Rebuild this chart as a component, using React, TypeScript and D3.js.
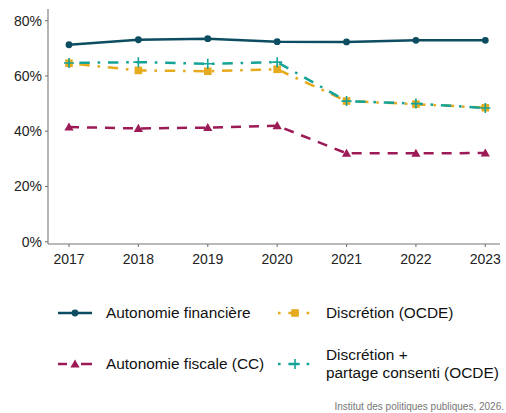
import React from "react";
import * as d3 from "d3";

const years = [2017, 2018, 2019, 2020, 2021, 2022, 2023];
const autonomieFinanciere = [71.3, 73.1, 73.5, 72.4, 72.3, 72.9, 72.9];
const discretionOCDE = [64.6, 62.0, 61.7, 62.4, 50.9, 49.8, 48.5];
const discretionPartage = [64.7, 65.0, 64.4, 65.0, 50.9, 50.0, 48.4];
const autonomieFiscale = [41.5, 41.0, 41.3, 42.0, 32.0, 32.0, 32.1];
const yTicks = [0, 20, 40, 60, 80];

type Series = {
  name: string[];
  values: number[];
  color: string;
  dash: string;
  keyDash: string;
  marker: "circle" | "triangle" | "square" | "plus";
};

const series: Series[] = [
  { name: ["Autonomie financière"], values: autonomieFinanciere, color: "#0c4d61", dash: "", keyDash: "", marker: "circle" },
  { name: ["Autonomie fiscale (CC)"], values: autonomieFiscale, color: "#9c1a55", dash: "10 8", keyDash: "9 14 12", marker: "triangle" },
  { name: ["Discrétion (OCDE)"], values: discretionOCDE, color: "#e6aa1f", dash: "2.6 7.8 10.4 7.8", keyDash: "2.6 7.8 10.4 7.8", marker: "square" },
  { name: ["Discrétion +", "partage consenti (OCDE)"], values: discretionPartage, color: "#14a396", dash: "2.6 7.8 10.4 7.8", keyDash: "2.6 7.8 10.4 7.8", marker: "plus" },
];

const FONT = "'Liberation Sans', Arial, sans-serif";

function Marker({ type, x, y, color }: { type: Series["marker"]; x: number; y: number; color: string }) {
  if (type === "circle") return <circle cx={x} cy={y} r={3.4} fill={color} />;
  if (type === "triangle") {
    const s = 4.6;
    return <path d={`M${x},${y - s}L${x + s},${y + s * 0.75}L${x - s},${y + s * 0.75}Z`} fill={color} />;
  }
  if (type === "square") return <rect x={x - 3.8} y={y - 3.8} width={7.6} height={7.6} fill={color} />;
  return (
    <path d={`M${x - 5},${y}H${x + 5}M${x},${y - 5}V${y + 5}`} stroke={color} strokeWidth={1.6} />
  );
}

export default function App() {
  const width = 506;
  const height = 413;
  const x = d3.scaleLinear().domain([2017, 2023]).range([69, 485.3]);
  const y = d3.scaleLinear().domain([0, 80]).range([241.7, 20.7]);
  const axisX = 48;
  const axisY = 244;

  const line = (vals: number[]) =>
    d3
      .line<number>()
      .x((_, i) => x(years[i]))
      .y((d) => y(d))(vals) || "";

  const legendPos = [
    { kx: 58, ty: 313 },
    { kx: 58, ty: 364 },
    { kx: 278, ty: 313 },
    { kx: 278, ty: 364 },
  ];

  return (
    <svg width={width} height={height} style={{ position: "absolute", left: 0, top: 0, fontFamily: FONT }}>
      <rect width={width} height={height} fill="#fff" />
      {/* axes */}
      <line x1={axisX} x2={axisX} y1={9} y2={axisY} stroke="#777" strokeWidth={1.1} />
      <line x1={axisX} x2={500} y1={axisY} y2={axisY} stroke="#777" strokeWidth={1.1} />
      {yTicks.map((t) => (
        <g key={t}>
          <line x1={axisX - 3} x2={axisX} y1={y(t)} y2={y(t)} stroke="#777" strokeWidth={1.1} />
          <text x={axisX - 6} y={y(t)} dy="0.35em" textAnchor="end" fontSize={14} fill="#222">
            {`${t}%`}
          </text>
        </g>
      ))}
      {years.map((yr) => (
        <g key={yr}>
          <line x1={x(yr)} x2={x(yr)} y1={axisY} y2={axisY + 3} stroke="#777" strokeWidth={1.1} />
          <text x={x(yr)} y={264} textAnchor="middle" fontSize={14} fill="#222">
            {yr}
          </text>
        </g>
      ))}
      {/* lines */}
      {series.map((s) => (
        <path key={s.name[0]} d={line(s.values)} fill="none" stroke={s.color} strokeWidth={2.5} strokeDasharray={s.dash || undefined} />
      ))}
      {series.map((s) => (
        <g key={s.name[0] + "m"}>
          {s.values.map((v, i) => (
            <Marker key={i} type={s.marker} x={x(years[i])} y={y(v)} color={s.color} />
          ))}
        </g>
      ))}
      {/* legend */}
      {series.map((s, i) => {
        const p = legendPos[i];
        return (
          <g key={s.name[0] + "l"}>
            <line x1={p.kx} x2={p.kx + 34} y1={p.ty} y2={p.ty} stroke={s.color} strokeWidth={2.5} strokeDasharray={s.keyDash || undefined} />
            <Marker type={s.marker} x={p.kx + 17} y={p.ty} color={s.color} />
            {s.name.length === 1 ? (
              <text x={p.kx + 48} y={p.ty} dy="0.35em" fontSize={15.4} fill="#111">
                {s.name[0]}
              </text>
            ) : (
              s.name.map((n, j) => (
                <text key={j} x={p.kx + 48} y={p.ty - 9 + j * 18} dy="0.35em" fontSize={15.4} fill="#111">
                  {n}
                </text>
              ))
            )}
          </g>
        );
      })}
      <text x={504} y={410} textAnchor="end" fontSize={10} fill="#777">
        Institut des politiques publiques, 2026.
      </text>
    </svg>
  );
}
